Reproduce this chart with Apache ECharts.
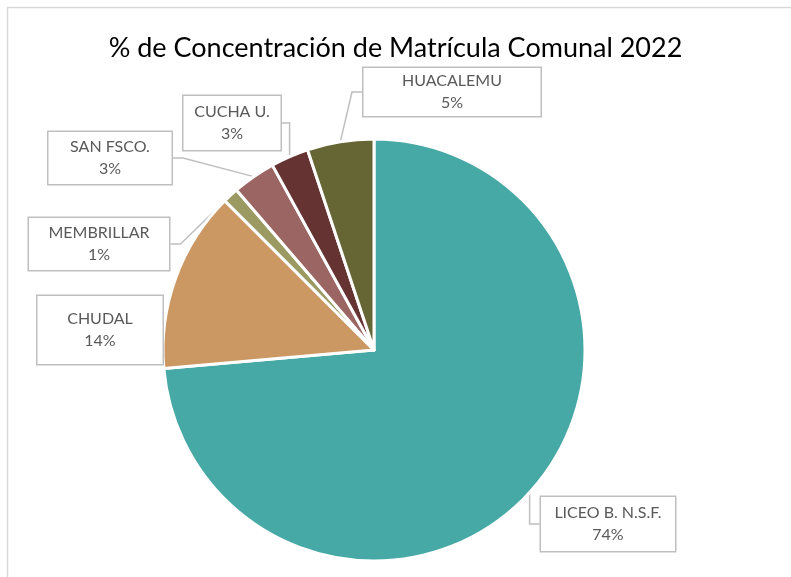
<!DOCTYPE html>
<html>
<head>
<meta charset="utf-8">
<script src="https://cdn.jsdelivr.net/npm/echarts@6/dist/echarts.min.js"></script>
<style>
html,body{margin:0;padding:0;background:#fff;}
#chart{width:791px;height:577px;}
</style>
</head>
<body>
<div id="chart"></div>
<script>
const categories = ['LICEO B. N.S.F.', 'CHUDAL', 'MEMBRILLAR', 'SAN FSCO.', 'CUCHA U.', 'HUACALEMU'];
const values = [73.6, 13.9, 1.2, 3.3, 2.9, 5.1];
const colors = ['#46A9A6', '#CB9864', '#9A9A62', '#9A6563', '#663333', '#656633'];
const titleText = '% de Concentración de Matrícula Comunal 2022';

// callout box layout (center x, center y, width, vertical padding)
const boxes = [
  {cx: 608, cy: 524, w: 134, pv: 5},
  {cx: 100, cy: 330, w: 125, pv: 12},
  {cx: 99,  cy: 244, w: 140, pv: 4},
  {cx: 110, cy: 158, w: 123, pv: 4},
  {cx: 232, cy: 123, w: 97,  pv: 5},
  {cx: 452, cy: 92,  w: 177, pv: 2}
];

const chart = echarts.init(document.getElementById('chart'));
const data = categories.map((name, i) => ({
  name: name,
  value: values[i],
  itemStyle: {color: colors[i]},
  label: {width: boxes[i].w, padding: [boxes[i].pv, 0]}
}));

chart.setOption({
  animation: false,
  backgroundColor: '#fff',
  title: {
    text: titleText,
    left: 'center',
    top: 30,
    textStyle: {fontFamily: 'Lato', fontWeight: 'normal', fontSize: 27, color: '#000'}
  },
  graphic: [{
    type: 'rect',
    shape: {x: 7.5, y: 7.5, width: 1000, height: 1000},
    style: {fill: 'none', stroke: '#D9D9D9', lineWidth: 1.5},
    silent: true
  }],
  series: [{
    type: 'pie',
    center: [374, 350],
    radius: [0, 211],
    startAngle: 90,
    clockwise: true,
    data: data,
    itemStyle: {borderColor: '#fff', borderWidth: 3},
    label: {
      show: true,
      position: 'outside',
      formatter: p => p.name + '\n' + Math.round(p.percent) + '%',
      fontFamily: 'Lato',
      fontSize: 16,
      lineHeight: 22,
      color: '#595959',
      align: 'center',
      backgroundColor: '#fff',
      borderColor: '#BFBFBF',
      borderWidth: 1.5
    },
    labelLine: {
      show: true,
      length: 10,
      length2: 10,
      lineStyle: {color: '#BFBFBF', width: 1.5}
    },
    labelLayout: function (params) {
      const b = boxes[params.dataIndex];
      return {x: b.cx, y: b.cy, align: 'center', verticalAlign: 'middle'};
    },
    emphasis: {disabled: true}
  }]
});
</script>
</body>
</html>
